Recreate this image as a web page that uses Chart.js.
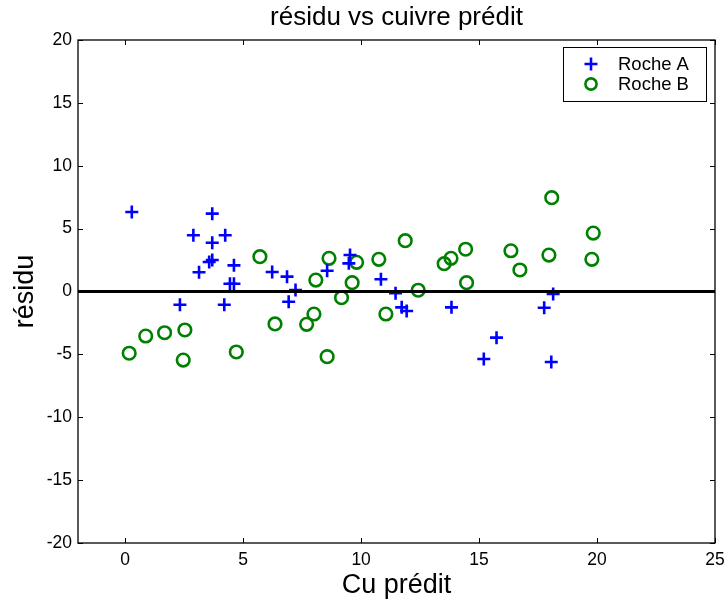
<!DOCTYPE html>
<html><head><meta charset="utf-8">
<script src="https://cdn.jsdelivr.net/npm/chart.js@4/dist/chart.umd.min.js"></script>
<style>html,body{margin:0;padding:0;background:#fff}#wrap{width:727px;height:602px}</style>
</head><body><div id="wrap"><canvas id="c" width="727" height="602"></canvas></div>
<script>
const chartTitle = 'résidu vs cuivre prédit';
const xLabel = 'Cu prédit';
const yLabel = 'résidu';
const seriesNames = ['Roche A', 'Roche B'];
const xTicks = [0, 5, 10, 15, 20, 25];
const yTicks = [-20, -15, -10, -5, 0, 5, 10, 15, 20];

const rocheA_x = [0.28, 3.69, 2.89, 4.24, 3.69, 3.69, 3.56, 4.61, 3.13, 4.44, 4.61, 2.32, 4.20, 6.23, 6.86, 7.22, 6.93, 8.56, 9.53, 9.48, 10.84, 11.46, 11.72, 11.93, 13.83, 15.74, 15.20, 17.76, 18.14, 18.06];
const rocheA_y = [6.32, 6.19, 4.47, 4.47, 3.88, 2.50, 2.35, 2.08, 1.53, 0.62, 0.62, -1.05, -1.05, 1.55, 1.18, 0.12, -0.81, 1.65, 2.90, 2.24, 0.97, -0.14, -1.26, -1.55, -1.26, -3.67, -5.37, -1.29, -0.20, -5.61];

const rocheB_x = [0.17, 0.87, 1.67, 2.53, 2.46, 4.71, 5.71, 6.35, 7.69, 8.00, 8.08, 8.56, 8.64, 9.17, 9.62, 9.81, 10.75, 11.05, 11.87, 12.42, 13.52, 13.81, 14.43, 14.47, 16.35, 16.73, 17.96, 18.08, 19.78, 19.84];
const rocheB_y = [-4.91, -3.54, -3.28, -3.06, -5.45, -4.81, 2.77, -2.58, -2.61, -1.79, 0.91, -5.18, 2.64, -0.49, 0.70, 2.32, 2.56, -1.79, 4.04, 0.10, 2.21, 2.64, 3.36, 0.70, 3.24, 1.71, 2.90, 7.46, 2.56, 4.65];

const zeroLine = 0;
const FONT = '"Liberation Sans", Arial, Helvetica, sans-serif';

const pts = (xs, ys) => xs.map((v, i) => ({x: v, y: ys[i]}));

const framePlugin = {
  id: 'frame',
  afterDatasetsDraw(chart) {
    const {ctx, chartArea: a, scales: {x, y}} = chart;
    ctx.save();
    // zero reference line
    const y0 = y.getPixelForValue(zeroLine);
    ctx.strokeStyle = '#000';
    ctx.lineWidth = 3;
    ctx.beginPath(); ctx.moveTo(a.left, y0); ctx.lineTo(a.right, y0); ctx.stroke();
    // box
    ctx.lineWidth = 1.3;
    ctx.strokeStyle = '#000';
    ctx.strokeRect(a.left, a.top, a.right - a.left, a.bottom - a.top);
    // inward ticks
    const tl = 5;
    ctx.lineWidth = 1;
    ctx.beginPath();
    xTicks.forEach(v => {
      const px = Math.round(x.getPixelForValue(v)) + 0.5;
      ctx.moveTo(px, a.bottom); ctx.lineTo(px, a.bottom - tl);
      ctx.moveTo(px, a.top); ctx.lineTo(px, a.top + tl);
    });
    yTicks.forEach(v => {
      const py = Math.round(y.getPixelForValue(v)) + 0.5;
      ctx.moveTo(a.left, py); ctx.lineTo(a.left + tl, py);
      ctx.moveTo(a.right, py); ctx.lineTo(a.right - tl, py);
    });
    ctx.stroke();

    // legend
    const lx = a.right - 152, ly = a.top + 7, lw = 143, lh = 54;
    ctx.fillStyle = '#fff';
    ctx.fillRect(lx, ly, lw, lh);
    ctx.lineWidth = 1;
    ctx.strokeStyle = '#000';
    ctx.strokeRect(lx + 0.5, ly + 0.5, lw, lh);
    chart.data.datasets.forEach((ds, i) => {
      const cy = ly + 17 + i * 20;
      const cx = lx + 28;
      ctx.strokeStyle = ds.borderColor;
      ctx.lineWidth = ds.borderWidth;
      ctx.beginPath();
      if (ds.pointStyle === 'cross') {
        const r = 6.5;
        ctx.moveTo(cx - r, cy); ctx.lineTo(cx + r, cy);
        ctx.moveTo(cx, cy - r); ctx.lineTo(cx, cy + r);
      } else {
        ctx.arc(cx, cy, 5.6, 0, Math.PI * 2);
      }
      ctx.stroke();
      ctx.fillStyle = '#000';
      ctx.font = '18.5px ' + FONT;
      ctx.textBaseline = 'middle';
      ctx.textAlign = 'left';
      ctx.fillText(ds.label, lx + 55, cy + 1);
    });
    ctx.restore();
  }
};

new Chart(document.getElementById('c'), {
  type: 'scatter',
  data: {
    datasets: [
      {label: seriesNames[0], data: pts(rocheA_x, rocheA_y), pointStyle: 'cross', pointRadius: 6.5,
       borderColor: '#0000ff', backgroundColor: '#0000ff', borderWidth: 2.6, pointHoverRadius: 6.5},
      {label: seriesNames[1], data: pts(rocheB_x, rocheB_y), pointStyle: 'circle', pointRadius: 6.3,
       borderColor: '#008000', backgroundColor: 'rgba(0,0,0,0)', borderWidth: 2.6, pointHoverRadius: 6.3}
    ]
  },
  options: {
    responsive: false,
    animation: false,
    events: [],
    layout: {padding: {top: 0, right: 12, left: 0, bottom: 0}},
    plugins: {
      legend: {display: false},
      tooltip: {enabled: false},
      title: {display: true, text: chartTitle, fullSize: false, color: '#000',
              font: {family: FONT, size: 26, weight: 'normal'}, padding: {top: 2, bottom: 6.8}}
    },
    scales: {
      x: {
        type: 'linear', min: -2, max: 25,
        afterBuildTicks: s => { s.ticks = xTicks.map(v => ({value: v})); },
        afterFit: s => { s.height = 59; s.paddingLeft = 0; s.paddingRight = 0; },
        grid: {display: false, drawTicks: false},
        border: {display: false},
        ticks: {color: '#000', padding: 7, font: {family: FONT, size: 17.5}},
        title: {display: true, text: xLabel, color: '#000', font: {family: FONT, size: 27}, padding: {top: -1, bottom: 0}}
      },
      y: {
        type: 'linear', min: -20, max: 20,
        afterBuildTicks: s => { s.ticks = yTicks.map(v => ({value: v})); },
        afterFit: s => { s.width = 78; s.paddingTop = 0; s.paddingBottom = 0; },
        grid: {display: false, drawTicks: false},
        border: {display: false},
        ticks: {color: '#000', padding: 6, font: {family: FONT, size: 17.5}},
        title: {display: true, text: yLabel, color: '#000', font: {family: FONT, size: 27}, padding: {top: 9, bottom: 0}}
      }
    }
  },
  plugins: [framePlugin]
});
</script>
</body></html>
